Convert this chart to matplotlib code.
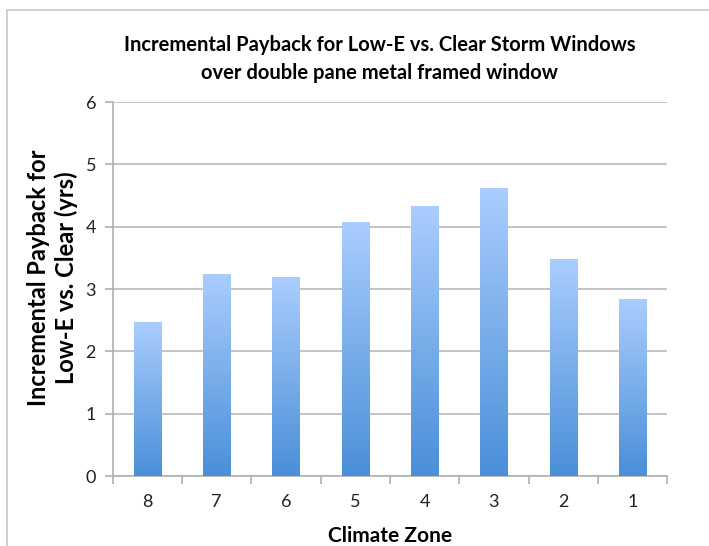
import numpy as np
import matplotlib
matplotlib.use('Agg')
import matplotlib.pyplot as plt
from matplotlib.colors import LinearSegmentedColormap
from matplotlib.patches import Rectangle

# Data
zones = ['8', '7', '6', '5', '4', '3', '2', '1']
payback = [2.46, 3.23, 3.19, 4.07, 4.32, 4.62, 3.47, 2.83]

plt.rcParams['font.family'] = ['Lato', 'DejaVu Sans']

fig = plt.figure(figsize=(7.09, 5.46), dpi=100)
ax = fig.add_axes([0.159, 0.128, 0.782, 0.685])

# outer chart border
fig.patches.append(Rectangle((7 / 709, -0.05), 1.1, (546 - 10) / 546 + 0.05,
                             transform=fig.transFigure, fill=False,
                             edgecolor='#c8c8c8', linewidth=1.2))

x = np.arange(len(zones))
bars = ax.bar(x, payback, width=0.39, color='none', edgecolor='none', zorder=3)

# vertical gradient on each bar
grad_cmap = LinearSegmentedColormap.from_list('bar', ['#4a8fd8', '#aacdfe'])
grad = np.linspace(0, 1, 256).reshape(-1, 1)
for b in bars:
    x0, y0 = b.get_x(), b.get_y()
    w, h = b.get_width(), b.get_height()
    ax.imshow(grad, cmap=grad_cmap, origin='lower', aspect='auto',
              extent=[x0, x0 + w, y0, y0 + h], zorder=3)

ax.set_xlim(-0.5, len(zones) - 0.5)
ax.set_ylim(0, 6)
ax.set_yticks(range(7))
ax.yaxis.grid(True, color='#c4c4c4', linewidth=1.4, zorder=0)
ax.set_axisbelow(True)

ax.set_xticks(x)
ax.set_xticklabels(zones)
ax.set_xticks(np.arange(-0.5, len(zones)), minor=True)
ax.tick_params(axis='x', which='major', length=0, pad=13, labelsize=13, colors='#222222')
ax.tick_params(axis='x', which='minor', length=6, width=1.2, color='#b0b0b0', direction='out')
ax.tick_params(axis='y', length=6, width=1.2, color='#b0b0b0', labelsize=13, pad=6,
               labelcolor='#222222')

for s in ['top', 'right']:
    ax.spines[s].set_visible(False)
for s in ['left', 'bottom']:
    ax.spines[s].set_color('#b0b0b0')
    ax.spines[s].set_linewidth(1.2)

ax.set_xlabel('Climate Zone', fontsize=15, fontweight='bold')
ax.xaxis.set_label_coords(0.5, -0.133)
ax.set_ylabel('Incremental Payback for\nLow-E vs. Clear (yrs)', fontsize=17,
              fontweight='bold', linespacing=1.2)
ax.yaxis.set_label_coords(-0.063, 0.53)
fig.text(0.535, 0.892, 'Incremental Payback for Low-E vs. Clear Storm Windows\n'
         'over double pane metal framed window', ha='center', va='center',
         fontsize=14.5, fontweight='bold', linespacing=1.45)

fig.savefig('out.png', dpi=100, facecolor='white')
